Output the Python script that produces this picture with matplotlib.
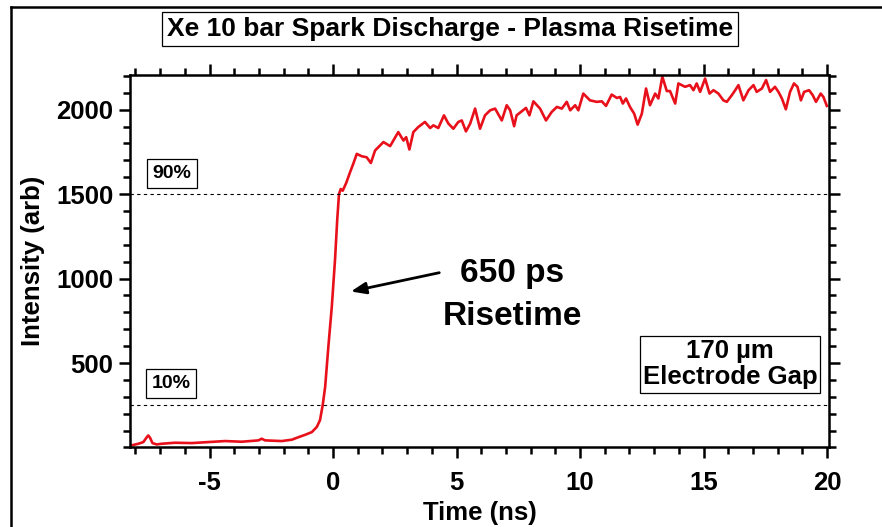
import numpy as np
import matplotlib
matplotlib.use("Agg")
from matplotlib import pyplot as plt
from matplotlib.lines import Line2D
from matplotlib.ticker import MultipleLocator

plt.rcParams['font.family'] = ['Liberation Sans', 'DejaVu Sans']
plt.rcParams['font.weight'] = 'bold'
plt.rcParams['axes.unicode_minus'] = False

# streak trace: time (ns) and intensity (arb)
t_ns = [
    -8.18, -7.88, -7.68, -7.54, -7.48, -7.41, -7.31, -7.14, -6.94, -6.40,
    -5.72, -5.05, -4.37, -3.70, -3.02, -2.89, -2.75, -2.08, -1.67, -1.40,
    -1.13, -0.86, -0.66, -0.53, -0.42, -0.32, -0.19, -0.05, 0.08, 0.17,
    0.24, 0.31, 0.39, 0.53, 0.69, 0.82, 0.96, 1.16, 1.36, 1.53,
    1.70, 2.04, 2.31, 2.64, 2.85, 2.96, 3.09, 3.25, 3.45, 3.72,
    3.93, 4.06, 4.26, 4.49, 4.67, 4.87, 5.07, 5.21, 5.38, 5.55,
    5.75, 5.95, 6.15, 6.36, 6.56, 6.83, 7.03, 7.17, 7.33, 7.43,
    7.64, 7.81, 7.95, 8.11, 8.38, 8.62, 8.85, 9.06, 9.26, 9.46,
    9.60, 9.80, 9.93, 10.13, 10.40, 10.67, 10.88, 11.05, 11.28, 11.49,
    11.62, 11.73, 11.86, 12.02, 12.19, 12.33, 12.50, 12.67, 12.83, 13.04,
    13.17, 13.33, 13.51, 13.64, 13.85, 13.98, 14.25, 14.45, 14.59, 14.72,
    14.86, 15.06, 15.24, 15.40, 15.60, 15.80, 15.94, 16.14, 16.28, 16.41,
    16.61, 16.82, 17.02, 17.15, 17.36, 17.53, 17.69, 17.89, 18.03, 18.17,
    18.33, 18.50, 18.66, 18.80, 18.94, 19.07, 19.27, 19.42, 19.55, 19.74,
    19.85, 19.99,
]
intensity = [
    12, 22, 32, 61, 71, 58, 26, 18, 22, 28,
    26, 32, 38, 34, 42, 52, 42, 38, 46, 61,
    75, 91, 121, 161, 250, 359, 597, 835, 1113, 1351,
    1500, 1530, 1520, 1565, 1630, 1680, 1738, 1724, 1718, 1684,
    1758, 1808, 1784, 1867, 1817, 1837, 1764, 1867, 1897, 1927,
    1891, 1907, 1891, 1966, 1917, 1887, 1927, 1936, 1871, 1917,
    2006, 1887, 1966, 1996, 2006, 1936, 2026, 1996, 1902, 1966,
    1990, 2010, 1966, 2049, 2006, 1936, 1986, 2016, 2006, 2046,
    1996, 2026, 1996, 2095, 2055, 2046, 2049, 2022, 2089, 2069,
    2075, 2036, 2066, 2016, 1976, 1911, 1976, 2125, 2026, 2095,
    2066, 2195, 2110, 2110, 2036, 2155, 2135, 2145, 2115, 2155,
    2105, 2184, 2095, 2115, 2095, 2055, 2046, 2085, 2115, 2145,
    2055, 2115, 2145, 2105, 2125, 2175, 2105, 2135, 2105, 2066,
    2002, 2105, 2155, 2135, 2055, 2105, 2115, 2085, 2046, 2095,
    2075, 2022,
]
assert len(t_ns) == len(intensity)

level_90 = 1500
level_10 = 250

fig = plt.figure(figsize=(8.82, 5.27), dpi=100)
ax = fig.add_axes([0.1474, 0.1509, 0.7926, 0.7068])

ax.plot(t_ns, intensity, color='#e8101a', lw=1.9)
ax.axhline(level_90, color='black', lw=0.8, ls=(0, (3, 3)))
ax.axhline(level_10, color='black', lw=0.8, ls=(0, (3, 3)))

ax.set_xlim(-8.22, 20.08)
ax.set_ylim(0, 2205)
ax.xaxis.set_major_locator(MultipleLocator(5))
ax.xaxis.set_minor_locator(MultipleLocator(1))
ax.yaxis.set_major_locator(MultipleLocator(500))
ax.yaxis.set_minor_locator(MultipleLocator(100))
ax.set_yticks([500, 1000, 1500, 2000])
ax.tick_params(which='both', direction='out', width=1.8, top=True, right=True,
               labeltop=False, labelright=False, labelsize=18.5)
ax.tick_params(axis='x', pad=9)
ax.tick_params(axis='y', pad=4)
ax.tick_params(which='major', length=8)
ax.tick_params(which='minor', length=5)
for s in ax.spines.values():
    s.set_linewidth(1.8)
for lab in ax.get_xticklabels() + ax.get_yticklabels():
    lab.set_fontweight('bold')

ax.set_xlabel('Time (ns)', fontsize=18.5, fontweight='bold', labelpad=4)
ax.set_ylabel('Intensity (arb)', fontsize=18.5, fontweight='bold', labelpad=8)

box = dict(boxstyle='square,pad=0.3', fc='white', ec='black', lw=0.9)
ax.text(-6.52, 1620, '90%', fontsize=14, fontweight='bold', ha='center', va='center', bbox=box)
ax.text(-6.56, 380, '10%', fontsize=14, fontweight='bold', ha='center', va='center', bbox=box)
ax.text(16.07, 494, '170 µm\nElectrode Gap', fontsize=18.5, fontweight='bold',
        ha='center', va='center', multialignment='center', linespacing=1.15,
        bbox=dict(boxstyle='square,pad=0.12', fc='white', ec='black', lw=0.9))

ax.annotate('', xy=(0.61, 920), xytext=(4.41, 1038),
            arrowprops=dict(arrowstyle='-|>,head_length=0.9,head_width=0.35',
                            color='black', lw=2))
ax.text(7.23, 1032, '650 ps', fontsize=24, fontweight='bold', ha='center', va='center')
ax.text(7.25, 778, 'Risetime', fontsize=24, fontweight='bold', ha='center', va='center')

fig.text(0.51, 0.945, 'Xe 10 bar Spark Discharge - Plasma Risetime', fontsize=19,
         fontweight='bold', ha='center', va='center',
         bbox=dict(boxstyle='square,pad=0.18', fc='white', ec='black', lw=0.9))

# outer frame along the left and top edges
fig.add_artist(Line2D([11 / 882, 11 / 882], [0, 1 - 7 / 527], color='black', lw=1.8,
                      transform=fig.transFigure))
fig.add_artist(Line2D([11 / 882, 1], [1 - 7 / 527, 1 - 7 / 527], color='black', lw=1.8,
                      transform=fig.transFigure))

fig.savefig('out.png', dpi=100)
